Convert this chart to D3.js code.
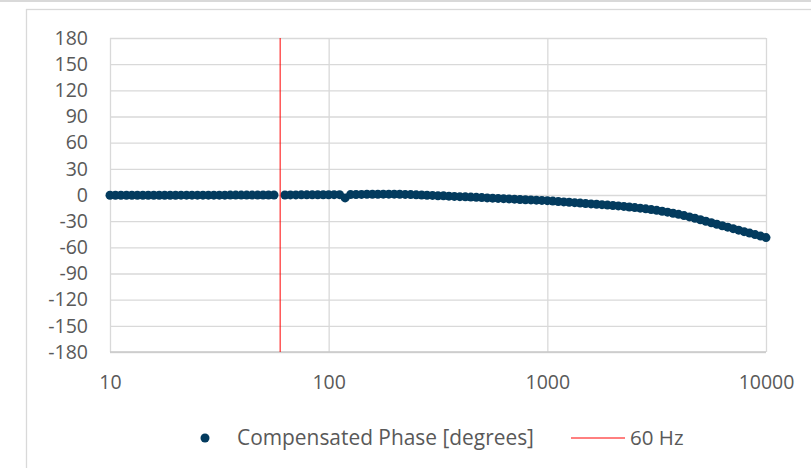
<!DOCTYPE html>
<html>
<head>
<meta charset="utf-8">
<script src="https://cdn.jsdelivr.net/npm/d3@7/dist/d3.min.js"></script>
<style>
  html, body { margin: 0; padding: 0; background: #ffffff; }
  svg { display: block; }
  text { font-family: "Open Sans", Lato, sans-serif; fill: #595959; }
</style>
</head>
<body>
<svg id="chart" width="811" height="468"></svg>
<script>
// ---- data ----
const frequencies = [
  10, 10.59, 11.22, 11.89, 12.59, 13.34, 14.13, 14.96, 15.85, 16.79,
  17.78, 18.84, 19.95, 21.13, 22.39, 23.71, 25.12, 26.61, 28.18, 29.85,
  31.62, 33.5, 35.48, 37.58, 39.81, 42.17, 44.67, 47.32, 50.12, 53.09,
  56.23, 63.1, 66.83, 70.79, 74.99, 79.43, 84.14, 89.13, 94.41, 100,
  105.9, 112.2, 118.9, 125.9, 133.4, 141.3, 149.6, 158.5, 167.9, 177.8,
  188.4, 199.5, 211.3, 223.9, 237.1, 251.2, 266.1, 281.8, 298.5, 316.2,
  335, 354.8, 375.8, 398.1, 421.7, 446.7, 473.2, 501.2, 530.9, 562.3,
  595.7, 631, 668.3, 707.9, 749.9, 794.3, 841.4, 891.3, 944.1, 1000,
  1059, 1122, 1189, 1259, 1334, 1413, 1496, 1585, 1679, 1778,
  1884, 1995, 2113, 2239, 2371, 2512, 2661, 2818, 2985, 3162,
  3350, 3548, 3758, 3981, 4217, 4467, 4732, 5012, 5309, 5623,
  5957, 6310, 6683, 7079, 7499, 7943, 8414, 8913, 9441, 10000
];
const phaseDegrees = [
  -0.3, -0.3, -0.3, -0.3, -0.3, -0.3, -0.3, -0.3, -0.3, -0.3,
  -0.3, -0.3, -0.3, -0.2, -0.2, -0.2, -0.2, -0.2, -0.2, -0.2,
  -0.2, -0.2, -0.1, -0.1, -0.1, -0.1, -0.1, -0.1, 0.0, 0.0,
  0.0, 0.0, 0.1, 0.1, 0.2, 0.2, 0.2, 0.3, 0.3, 0.3,
  0.4, 0.4, -3.3, 0.5, 0.6, 0.7, 0.8, 0.9, 0.9, 1.0,
  1.0, 1.0, 0.9, 0.7, 0.5, 0.2, 0.0, -0.3, -0.5, -0.8,
  -1.0, -1.3, -1.6, -1.9, -2.1, -2.4, -2.7, -3.0, -3.3, -3.6,
  -3.9, -4.2, -4.5, -4.8, -5.1, -5.4, -5.6, -5.9, -6.2, -6.5,
  -7.0, -7.4, -7.9, -8.3, -8.8, -9.3, -9.7, -10.2, -10.6, -11.1,
  -11.6, -12.0, -12.5, -13.1, -13.7, -14.4, -15.1, -15.9, -16.7, -17.6,
  -18.6, -19.7, -20.9, -22.2, -23.6, -25.1, -26.7, -28.4, -30.1, -31.8,
  -33.5, -35.2, -36.9, -38.6, -40.3, -42.0, -43.7, -45.4, -47.1, -48.8
];
const markerFrequency = 60;
const xTickValues = [10, 100, 1000, 10000];
const xTickLabels = ["10", "100", "1000", "10000"];
const yTickValues = [-180, -150, -120, -90, -60, -30, 0, 30, 60, 90, 120, 150, 180];
const seriesName = "Compensated Phase [degrees]";
const markerName = "60 Hz";

const points = frequencies.map((f, i) => ({ f: f, p: phaseDegrees[i] }));

// ---- layout ----
const svg = d3.select("#chart");
const plot = { left: 110, right: 766, top: 38, bottom: 352 };
const gridColor = "#d9d9d9";
const seriesColor = "#033b5e";
const redColor = "#ff0000";

// page / chart frame lines
svg.append("line").attr("x1", 0).attr("x2", 811).attr("y1", 1).attr("y2", 1)
  .attr("stroke", gridColor).attr("stroke-width", 2);
svg.append("rect").attr("x", 26.5).attr("y", 9.5).attr("width", 900).attr("height", 600)
  .attr("fill", "#ffffff").attr("stroke", gridColor).attr("stroke-width", 1.3);

const x = d3.scaleLog().domain([10, 10000]).range([plot.left, plot.right]);
const y = d3.scaleLinear().domain([-180, 180]).range([plot.bottom, plot.top]);

// horizontal grid
const yGrid = svg.append("g").attr("transform", `translate(${plot.left},0)`)
  .call(d3.axisLeft(y).tickValues(yTickValues).tickSize(-(plot.right - plot.left)).tickFormat(""));
yGrid.select(".domain").remove();
yGrid.selectAll("line").attr("stroke", gridColor).attr("stroke-width", 1.3);

// vertical grid
const xGrid = svg.append("g").attr("transform", `translate(0,${plot.bottom})`)
  .call(d3.axisBottom(x).tickValues(xTickValues).tickSize(-(plot.bottom - plot.top)).tickFormat(""));
xGrid.select(".domain").remove();
xGrid.selectAll("line").attr("stroke", gridColor).attr("stroke-width", 1.3);

// bottom axis line (slightly darker)
svg.append("line").attr("x1", plot.left).attr("x2", plot.right)
  .attr("y1", y(-180)).attr("y2", y(-180))
  .attr("stroke", "#c8c8c8").attr("stroke-width", 1.6);

// y labels
const yAxis = svg.append("g").attr("transform", `translate(${plot.left},0)`)
  .call(d3.axisLeft(y).tickValues(yTickValues).tickSize(0).tickPadding(22).tickFormat(d => String(d)));
yAxis.select(".domain").remove();
yAxis.selectAll("text").style("font-size", "19.5px").attr("fill", "#595959");

// x labels
const xAxis = svg.append("g").attr("transform", `translate(0,${plot.bottom})`)
  .call(d3.axisBottom(x).tickValues(xTickValues).tickSize(0).tickPadding(23)
    .tickFormat((d, i) => xTickLabels[i]));
xAxis.select(".domain").remove();
xAxis.selectAll("text").style("font-size", "19.5px").attr("fill", "#595959");

// series markers
svg.append("g").selectAll("circle").data(points).join("circle")
  .attr("cx", d => x(d.f)).attr("cy", d => y(d.p)).attr("r", 4.5)
  .attr("fill", seriesColor);

// 60 Hz line
svg.append("line")
  .attr("x1", x(markerFrequency)).attr("x2", x(markerFrequency))
  .attr("y1", y(180)).attr("y2", y(-180))
  .attr("stroke", redColor).attr("stroke-width", 1);

// legend
const legend = svg.append("g");
legend.append("circle").attr("cx", 205).attr("cy", 438).attr("r", 4.5).attr("fill", seriesColor);
legend.append("text").attr("x", 237).attr("y", 438).attr("dy", "0.35em")
  .style("font-size", "20.9px").text(seriesName);
legend.append("line").attr("x1", 571).attr("x2", 625).attr("y1", 438).attr("y2", 438)
  .attr("stroke", redColor).attr("stroke-width", 1);
legend.append("text").attr("x", 630).attr("y", 438).attr("dy", "0.35em")
  .style("font-size", "20.5px").text(markerName);
</script>
</body>
</html>
